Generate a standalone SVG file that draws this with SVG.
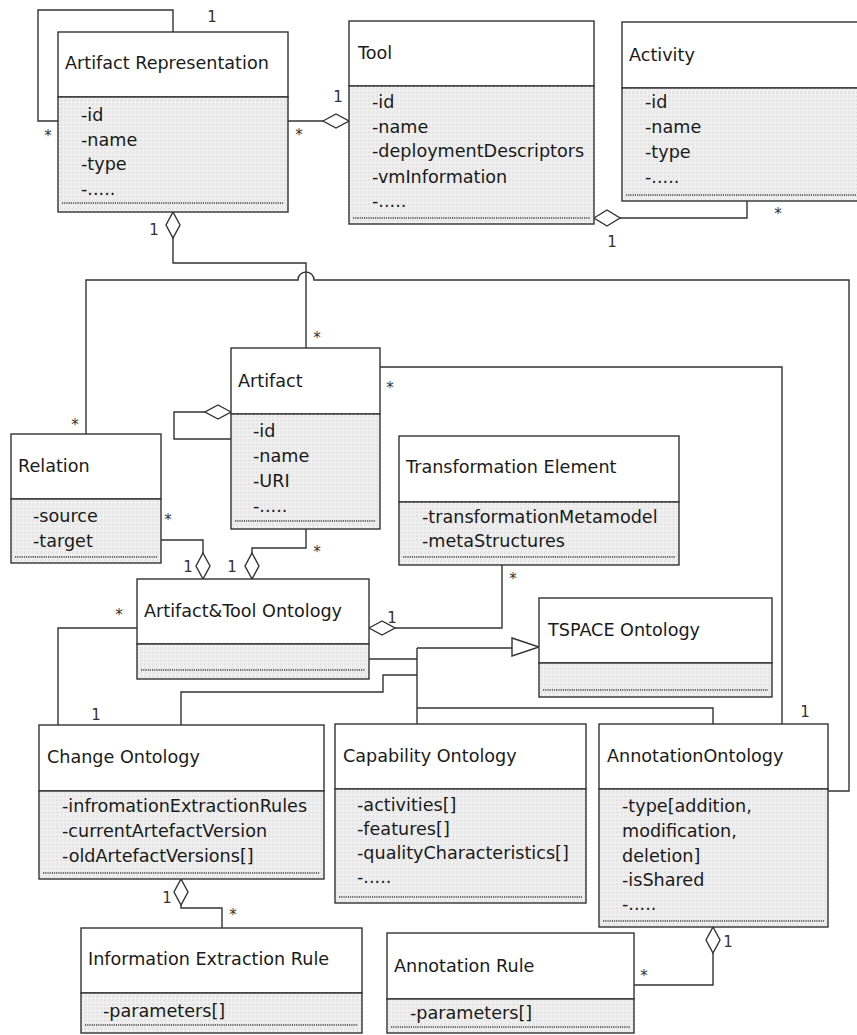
<svg xmlns="http://www.w3.org/2000/svg" width="857" height="1035" viewBox="0 0 857 1035">
  <style>
    .hdr { fill: #ffffff; stroke: #333333; stroke-width: 1.4; }
    .body { fill: url(#stipple); stroke: #333333; stroke-width: 1.4; }
    .sep { stroke: #444444; stroke-width: 1.4; stroke-dasharray: 1.2 1; fill: none; }
    .title, .attr { font-family: "DejaVu Sans", Verdana, sans-serif; font-size: 17.6px; fill: #1a1a1a; }
    .mult { font-family: "DejaVu Sans", Verdana, sans-serif; font-size: 15px; fill: #333333; text-anchor: middle; }
    .conn { fill: none; stroke: #333333; stroke-width: 1.4; }
    .agg { fill: #ffffff; stroke: #333333; stroke-width: 1.4; }
  </style>
  <defs>
    <!-- speckled light-grey fill of the attribute compartments -->
    <pattern id="stipple" width="4" height="4" patternUnits="userSpaceOnUse">
      <rect width="4" height="4" fill="#efefef"/>
      <rect x="0" y="0" width="1" height="1" fill="#d8d8d8"/>
      <rect x="2" y="1" width="1" height="1" fill="#dedede"/>
      <rect x="1" y="3" width="1" height="1" fill="#dbdbdb"/>
      <rect x="3" y="2" width="1" height="1" fill="#f9f9f9"/>
    </pattern>
  </defs>

  <rect width="857" height="1035" fill="#ffffff"/>

  <!-- connectors -->
  <g id="connectors">
    <!-- Artifact Representation self association -->
    <path class="conn" d="M58,121 H38 V10 H173 V32"/>
    <!-- Artifact Representation - Tool -->
    <path class="conn" d="M288,121 H323"/>
    <path class="agg" d="M323,121 L336,114 L349,121 L336,128 Z"/>
    <!-- Tool - Activity -->
    <path class="conn" d="M747,201 V218 H620"/>
    <path class="agg" d="M594,218 L607,210 L620,218 L607,226 Z"/>
    <!-- Artifact Representation - Artifact -->
    <path class="agg" d="M173,212 L180,225 L173,238 L166,225 Z"/>
    <path class="conn" d="M173,238 V263 H306 V348"/>
    <!-- Relation - AnnotationOntology (hops over the line above) -->
    <path class="conn" d="M86,434 V280 H298 A8,8 0 0 1 314,280 H849 V791 H828"/>
    <!-- Artifact self aggregation -->
    <path class="agg" d="M231,412 L218,405 L205,412 L218,419 Z"/>
    <path class="conn" d="M205,412 H174 V439 H231"/>
    <!-- Artifact - AnnotationOntology -->
    <path class="conn" d="M380,367 H782 V724"/>
    <!-- Relation - Artifact&Tool Ontology -->
    <path class="conn" d="M157,540 H203 V553"/>
    <path class="agg" d="M203,553 L210,566 L203,579 L196,566 Z"/>
    <!-- Artifact - Artifact&Tool Ontology -->
    <path class="conn" d="M306,529 V548 H252 V553"/>
    <path class="agg" d="M252,553 L259,566 L252,579 L245,566 Z"/>
    <!-- Artifact&Tool Ontology - Transformation Element -->
    <path class="agg" d="M369,628 L382,621 L395,628 L382,635 Z"/>
    <path class="conn" d="M395,628 H502 V565"/>
    <!-- Artifact&Tool Ontology - Change Ontology -->
    <path class="conn" d="M137,628 H58 V725"/>
    <!-- generalization tree towards TSPACE Ontology -->
    <path class="conn" d="M417,648 H512"/>
    <path class="agg" d="M512,638 L539,647 L512,656 Z"/>
    <path class="conn" d="M365,659 H417"/>
    <path class="conn" d="M417,648 V724"/>
    <path class="conn" d="M417,675 H383 V692 H181 V725"/>
    <path class="conn" d="M417,708 H713 V724"/>
    <!-- Change Ontology - Information Extraction Rule -->
    <path class="agg" d="M181,879 L188,892 L181,905 L174,892 Z"/>
    <path class="conn" d="M181,905 V908 H222 V928"/>
    <!-- AnnotationOntology - Annotation Rule -->
    <path class="agg" d="M713,927 L720,940 L713,953 L706,940 Z"/>
    <path class="conn" d="M713,953 V985 H634"/>

    <!-- multiplicities -->
    <text class="mult" x="212" y="22">1</text>
    <text class="mult" x="48" y="141">*</text>
    <text class="mult" x="338" y="102">1</text>
    <text class="mult" x="299" y="140">*</text>
    <text class="mult" x="612" y="247">1</text>
    <text class="mult" x="778" y="219">*</text>
    <text class="mult" x="154" y="235">1</text>
    <text class="mult" x="317" y="343">*</text>
    <text class="mult" x="390" y="393">*</text>
    <text class="mult" x="75" y="430">*</text>
    <text class="mult" x="805" y="717">1</text>
    <text class="mult" x="168" y="525">*</text>
    <text class="mult" x="188" y="572">1</text>
    <text class="mult" x="232" y="572">1</text>
    <text class="mult" x="317" y="557">*</text>
    <text class="mult" x="119" y="620">*</text>
    <text class="mult" x="96" y="720">1</text>
    <text class="mult" x="392" y="623">1</text>
    <text class="mult" x="513" y="584">*</text>
    <text class="mult" x="167" y="903">1</text>
    <text class="mult" x="233" y="920">*</text>
    <text class="mult" x="728" y="947">1</text>
    <text class="mult" x="644" y="981">*</text>
  </g>

  <!-- classes -->
  <g id="artifact-representation">
    <rect class="hdr" x="58" y="32" width="230" height="65"/>
    <rect class="body" x="58" y="97" width="230" height="115"/>
    <line class="sep" x1="62" y1="203" x2="284" y2="203"/>
    <text class="title" x="65" y="69">Artifact Representation</text>
    <text class="attr" x="81" y="121">-id</text>
    <text class="attr" x="81" y="146">-name</text>
    <text class="attr" x="81" y="170">-type</text>
    <text class="attr" x="81" y="195">-.....</text>
  </g>

  <g id="tool">
    <rect class="hdr" x="349" y="21" width="245" height="65"/>
    <rect class="body" x="349" y="86" width="245" height="138"/>
    <line class="sep" x1="353" y1="218" x2="590" y2="218"/>
    <text class="title" x="358" y="59">Tool</text>
    <text class="attr" x="372" y="108">-id</text>
    <text class="attr" x="372" y="133">-name</text>
    <text class="attr" x="372" y="157">-deploymentDescriptors</text>
    <text class="attr" x="372" y="183">-vmInformation</text>
    <text class="attr" x="372" y="207">-.....</text>
  </g>

  <g id="activity">
    <rect class="hdr" x="622" y="22" width="250" height="66"/>
    <rect class="body" x="622" y="88" width="250" height="113"/>
    <line class="sep" x1="626" y1="195" x2="868" y2="195"/>
    <text class="title" x="629" y="61">Activity</text>
    <text class="attr" x="645" y="108">-id</text>
    <text class="attr" x="645" y="133">-name</text>
    <text class="attr" x="645" y="158">-type</text>
    <text class="attr" x="645" y="183">-.....</text>
  </g>

  <g id="artifact">
    <rect class="hdr" x="231" y="348" width="149" height="66"/>
    <rect class="body" x="231" y="414" width="149" height="115"/>
    <line class="sep" x1="235" y1="521" x2="376" y2="521"/>
    <text class="title" x="238" y="387">Artifact</text>
    <text class="attr" x="253" y="437">-id</text>
    <text class="attr" x="253" y="462">-name</text>
    <text class="attr" x="253" y="487">-URI</text>
    <text class="attr" x="253" y="512">-.....</text>
  </g>

  <g id="relation">
    <rect class="hdr" x="11" y="434" width="150" height="65"/>
    <rect class="body" x="11" y="499" width="150" height="64"/>
    <line class="sep" x1="15" y1="557" x2="157" y2="557"/>
    <text class="title" x="18" y="472">Relation</text>
    <text class="attr" x="33" y="522">-source</text>
    <text class="attr" x="33" y="547">-target</text>
  </g>

  <g id="transformation-element">
    <rect class="hdr" x="399" y="436" width="280" height="66"/>
    <rect class="body" x="399" y="502" width="280" height="63"/>
    <line class="sep" x1="403" y1="557" x2="675" y2="557"/>
    <text class="title" x="406" y="473">Transformation Element</text>
    <text class="attr" x="422" y="523">-transformationMetamodel</text>
    <text class="attr" x="422" y="547">-metaStructures</text>
  </g>

  <g id="artifact-tool-ontology">
    <rect class="hdr" x="137" y="579" width="232" height="65"/>
    <rect class="body" x="137" y="644" width="232" height="35"/>
    <line class="sep" x1="141" y1="670" x2="365" y2="670"/>
    <text class="title" x="144" y="617">Artifact&amp;Tool Ontology</text>
  </g>

  <g id="tspace-ontology">
    <rect class="hdr" x="539" y="598" width="233" height="65"/>
    <rect class="body" x="539" y="663" width="233" height="34"/>
    <line class="sep" x1="543" y1="690" x2="768" y2="690"/>
    <text class="title" x="548" y="636">TSPACE Ontology</text>
  </g>

  <g id="change-ontology">
    <rect class="hdr" x="39" y="725" width="285" height="66"/>
    <rect class="body" x="39" y="791" width="285" height="88"/>
    <line class="sep" x1="43" y1="873" x2="320" y2="873"/>
    <text class="title" x="47" y="763">Change Ontology</text>
    <text class="attr" x="62" y="812">-infromationExtractionRules</text>
    <text class="attr" x="62" y="837">-currentArtefactVersion</text>
    <text class="attr" x="62" y="862">-oldArtefactVersions[]</text>
  </g>

  <g id="capability-ontology">
    <rect class="hdr" x="335" y="724" width="251" height="65"/>
    <rect class="body" x="335" y="789" width="251" height="114"/>
    <line class="sep" x1="339" y1="897" x2="582" y2="897"/>
    <text class="title" x="343" y="762">Capability Ontology</text>
    <text class="attr" x="357" y="811">-activities[]</text>
    <text class="attr" x="357" y="835">-features[]</text>
    <text class="attr" x="357" y="859">-qualityCharacteristics[]</text>
    <text class="attr" x="357" y="883">-.....</text>
  </g>

  <g id="annotation-ontology">
    <rect class="hdr" x="599" y="724" width="229" height="65"/>
    <rect class="body" x="599" y="789" width="229" height="138"/>
    <line class="sep" x1="603" y1="921" x2="824" y2="921"/>
    <text class="title" x="607" y="762">AnnotationOntology</text>
    <text class="attr" x="622" y="812">-type[addition,</text>
    <text class="attr" x="622" y="837">modification,</text>
    <text class="attr" x="622" y="862">deletion]</text>
    <text class="attr" x="622" y="886">-isShared</text>
    <text class="attr" x="622" y="910">-.....</text>
  </g>

  <g id="information-extraction-rule">
    <rect class="hdr" x="81" y="928" width="281" height="65"/>
    <rect class="body" x="81" y="993" width="281" height="40"/>
    <line class="sep" x1="85" y1="1025" x2="358" y2="1025"/>
    <text class="title" x="88" y="965">Information Extraction Rule</text>
    <text class="attr" x="103" y="1017">-parameters[]</text>
  </g>

  <g id="annotation-rule">
    <rect class="hdr" x="387" y="933" width="247" height="66"/>
    <rect class="body" x="387" y="999" width="247" height="34"/>
    <line class="sep" x1="391" y1="1027" x2="630" y2="1027"/>
    <text class="title" x="394" y="972">Annotation Rule</text>
    <text class="attr" x="410" y="1019">-parameters[]</text>
  </g>
</svg>
